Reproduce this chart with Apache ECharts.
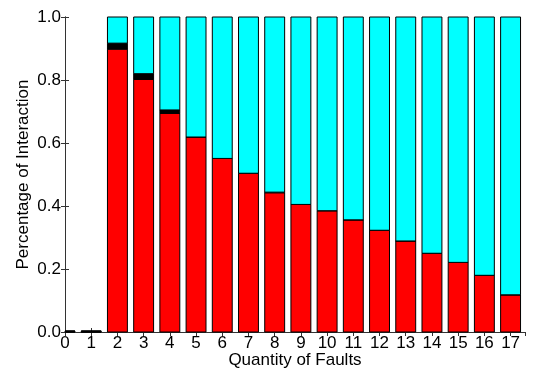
<!DOCTYPE html>
<html><head><meta charset="utf-8">
<script src="https://cdn.jsdelivr.net/npm/echarts@6/dist/echarts.min.js"></script>
<style>html,body{margin:0;padding:0;background:#fff}#c{width:535px;height:371px}</style>
</head><body><div id="c"></div>
<script>
const categories = [0,1,2,3,4,5,6,7,8,9,10,11,12,13,14,15,16,17];
const redValues   = [0,0,0.898,0.802,0.694,0.619,0.551,0.504,0.442,0.405,0.385,0.356,0.323,0.289,0.250,0.221,0.180,0.118];
const blackValues = [0.003,0.003,0.019,0.018,0.011,0,0,0,0.002,0,0,0,0,0,0,0,0,0];
const cyanValues  = categories.map((c,i)=> (i<2 ? 0 : +(1 - redValues[i] - blackValues[i]).toFixed(3)));
const yTicks = [0,0.2,0.4,0.6,0.8,1.0];

const font = 'Liberation Sans';
const axisCol = '#333';
const layers = [redValues, blackValues, cyanValues];
const colors = ['#ff0000', '#000000', '#00ffff'];

function makeSeries(k){
  return {
    type:'custom', name:'s'+k, animation:false,
    data: categories.map((c,i)=>{
      let base = 0; for (let j=0;j<k;j++) base += layers[j][i];
      return [c, base, base + layers[k][i]];
    }),
    encode:{x:0, y:[1,2]},
    renderItem(params, api){
      const x = api.value(0), y0 = api.value(1), y1 = api.value(2);
      const p0 = api.coord([x, y0]), p1 = api.coord([x, y1]);
      const w = api.size([0.76, 0])[0];
      const rect = echarts.graphic.clipRectByRect(
        {x: p0[0]-w/2, y: p1[1], width: w, height: p0[1]-p1[1]},
        {x: params.coordSys.x, y: params.coordSys.y, width: params.coordSys.width, height: params.coordSys.height});
      if (!rect) return;
      return {type:'rect', shape:rect, style:{fill:colors[k], stroke:'#000', lineWidth:1}};
    }
  };
}
const chart = echarts.init(document.getElementById('c'));
chart.setOption({
  animation:false,
  grid:{left:65, right:10, top:17, bottom:39, containLabel:false, outerBoundsMode:'none'},
  xAxis:[{type:'value', min:0, max:17.55, interval:1, position:'bottom',
    name:'Quantity of Faults', nameLocation:'middle', nameGap:20, nameMoveOverlap:false,
    nameTextStyle:{fontFamily:font, fontSize:17, color:'#000', verticalAlign:'top'},
    axisLine:{show:true, lineStyle:{color:axisCol}}, splitLine:{show:false},
    axisTick:{inside:true, length:4, lineStyle:{color:axisCol}},
    axisLabel:{fontFamily:font, fontSize:17, color:'#000', margin:3, showMaxLabel:false,
      formatter:v=> Number.isInteger(v) ? String(v) : ''}},
   {type:'value', min:0, max:17.55, interval:1, position:'top',
    axisLine:{show:true, lineStyle:{color:axisCol}}, splitLine:{show:false},
    axisTick:{inside:true, length:4, lineStyle:{color:axisCol}}, axisLabel:{show:false}}],
  yAxis:[{type:'value', min:0, max:1, interval:0.2, position:'left',
    name:'Percentage of Interaction', nameLocation:'middle', nameGap:33, nameMoveOverlap:false,
    nameTextStyle:{fontFamily:font, fontSize:17, color:'#000'},
    axisLine:{show:true, lineStyle:{color:axisCol}}, splitLine:{show:false},
    axisTick:{inside:true, length:4, lineStyle:{color:axisCol}},
    axisLabel:{fontFamily:font, fontSize:17, color:'#000', margin:4,
      formatter:v=> v.toFixed(1)}},
   {type:'value', min:0, max:1, interval:0.2, position:'right',
    axisLine:{show:true, lineStyle:{color:axisCol}}, splitLine:{show:false},
    axisTick:{inside:true, length:4, lineStyle:{color:axisCol}}, axisLabel:{show:false}}],
  series:[makeSeries(0), makeSeries(1), makeSeries(2)]
});
</script></body></html>
